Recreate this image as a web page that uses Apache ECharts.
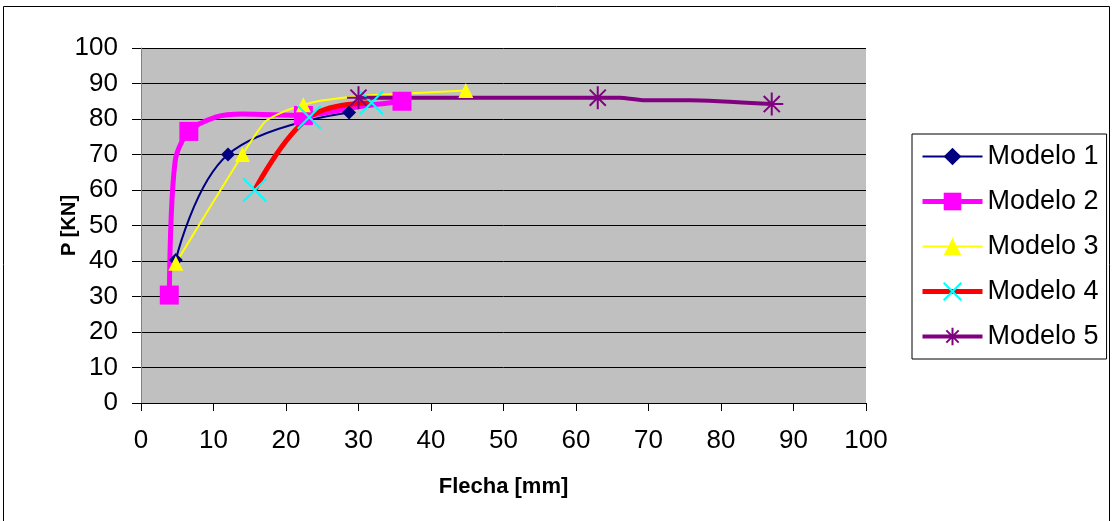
<!DOCTYPE html>
<html>
<head>
<meta charset="utf-8">
<script src="https://cdn.jsdelivr.net/npm/echarts@6/dist/echarts.min.js"></script>
<style>
	html, body { margin: 0; padding: 0; background: #fff; }
	#chart { width: 1112px; height: 521px; }
</style>
</head>
<body>
<div id="chart"></div>
<script>
	// data: [flecha mm, P kN]
	var names = ['Modelo 1', 'Modelo 2', 'Modelo 3', 'Modelo 4', 'Modelo 5'];
	var modelo1 = [[4.8, 40.3], [12, 70], [28.7, 81.8]];
	var modelo2 = [[3.9, 30.4], [4.7, 68], [6.6, 76.5], [10.4, 80.6], [14, 81.4], [22.4, 81], [30.2, 83.5], [36, 85]];
	var modelo3 = [[4.8, 39.4], [14, 70], [17.1, 79.2], [19.6, 82], [22.4, 84], [24.9, 85.2], [30.2, 86.5], [34.3, 87], [44.8, 88]];
	var modelo4 = [[15.7, 60], [23.2, 80.5], [31.8, 84.6]];
	var modelo5 = [[30, 86], [63, 86], [66, 86], [69.5, 85.3], [75.7, 85.3], [87, 84.2]];
	// which points carry a marker
	var marked1 = [0, 1, 2];
	var marked2 = [0, 2, 5, 7];
	var marked3 = [0, 1, 4, 8];
	var marked4 = [0, 1, 2];
	var marked5 = [0, 1, 5];
	var xTicks = [0, 10, 20, 30, 40, 50, 60, 70, 80, 90, 100];
	var yTicks = [0, 10, 20, 30, 40, 50, 60, 70, 80, 90, 100];

	var font = 'Liberation Sans, Arial, sans-serif';
	var crossPath = 'path://M0,0L20,20M20,0L0,20';
	var starPath = 'path://M10,0L10,20M0,10L20,10M3,3L17,17M17,3L3,17';
	var widths = [2, 5, 2, 5, 4];

	function pts(list, marked) {
		return list.map(function(p, i) {
			return marked.indexOf(i) >= 0 ? { value: p } : { value: p, symbol: 'none' };
		});
	}

	var myChart = echarts.init(document.getElementById('chart'));
	myChart.setOption({
		animation: false,
		backgroundColor: '#fff',
		graphic: [{
			type: 'rect',
			shape: { x: 3.5, y: 6.5, width: 1106, height: 520 },
			style: { fill: 'none', stroke: '#000', lineWidth: 1 },
			silent: true
		}],
		grid: {
			left: 141,
			right: 246,
			top: 48,
			bottom: 118,
			show: true,
			backgroundColor: '#c0c0c0',
			borderWidth: 0
		},
		legend: {
			orient: 'vertical',
			left: 912,
			top: 134,
			width: 198,
			padding: [9, 8, 9, 8],
			itemGap: 18,
			itemWidth: 60,
			itemHeight: 22,
			borderColor: '#000',
			borderWidth: 1,
			backgroundColor: '#fff',
			textStyle: { fontFamily: font, fontSize: 27, color: '#000' },
			data: names.map(function(n, i) {
				return { name: n, lineStyle: { width: widths[i] } };
			})
		},
		xAxis: {
			type: 'value',
			min: 0,
			max: 100,
			interval: 10,
			name: 'Flecha [mm]',
			nameLocation: 'middle',
			nameGap: 73,
			nameMoveOverlap: false,
			nameTextStyle: { fontFamily: font, fontSize: 22, fontWeight: 'bold', color: '#000' },
			axisLine: { lineStyle: { color: '#000', width: 1 } },
			axisTick: { show: true, length: 8, lineStyle: { color: '#000' } },
			axisLabel: { fontFamily: font, fontSize: 26, color: '#000', margin: 25,
				formatter: function(v) { return xTicks.indexOf(v) >= 0 ? v : ''; } },
			splitLine: { show: false }
		},
		yAxis: {
			type: 'value',
			min: 0,
			max: 100,
			interval: 10,
			name: 'P [KN]',
			nameLocation: 'middle',
			nameGap: 62,
			nameMoveOverlap: false,
			nameRotate: 90,
			nameTextStyle: { fontFamily: font, fontSize: 20, fontWeight: 'bold', color: '#000' },
			axisLine: { show: true, lineStyle: { color: '#808080', width: 1 } },
			axisTick: { show: true, length: 9, lineStyle: { color: '#000' } },
			axisLabel: { fontFamily: font, fontSize: 26, color: '#000', margin: 23,
				formatter: function(v) { return yTicks.indexOf(v) >= 0 ? v : ''; } },
			splitLine: { show: true, lineStyle: { color: '#000', width: 1 } }
		},
		series: [{
			name: names[0],
			type: 'line',
			smooth: 0.4,
			symbol: 'diamond',
			symbolSize: 14,
			lineStyle: { color: '#000080', width: widths[0] },
			itemStyle: { color: '#000080' },
			data: pts(modelo1, marked1)
		}, {
			name: names[1],
			type: 'line',
			smooth: 0.3,
			symbol: 'rect',
			symbolSize: 19,
			lineStyle: { color: '#ff00ff', width: widths[1] },
			itemStyle: { color: '#ff00ff' },
			data: pts(modelo2, marked2)
		}, {
			name: names[2],
			type: 'line',
			smooth: 0.2,
			symbol: 'triangle',
			symbolSize: 15,
			lineStyle: { color: '#ffff00', width: widths[2] },
			itemStyle: { color: '#ffff00' },
			data: pts(modelo3, marked3)
		}, {
			name: names[3],
			type: 'line',
			smooth: 0.4,
			symbol: crossPath,
			symbolSize: 23,
			lineStyle: { color: '#ff0000', width: widths[3] },
			itemStyle: { color: '#00ffff', borderColor: '#00ffff', borderWidth: 2 },
			data: pts(modelo4, marked4)
		}, {
			name: names[4],
			type: 'line',
			smooth: 0.2,
			symbol: starPath,
			symbolSize: 23,
			lineStyle: { color: '#800080', width: widths[4] },
			itemStyle: { color: '#800080', borderColor: '#800080', borderWidth: 2 },
			data: pts(modelo5, marked5)
		}]
	});
</script>
</body>
</html>
